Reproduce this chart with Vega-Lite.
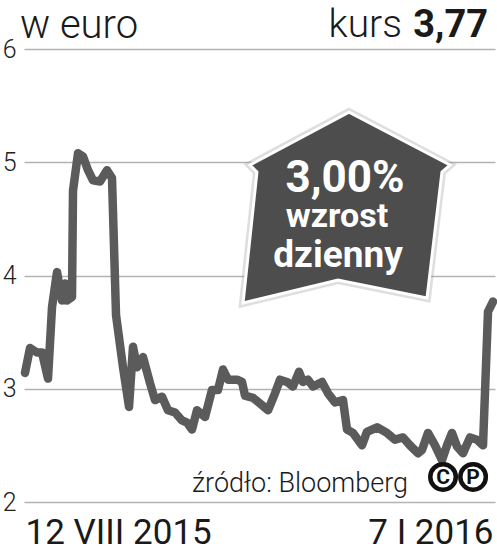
{
  "$schema": "https://vega.github.io/schema/vega-lite/v6.json",
  "autosize": {"type": "none"},
  "padding": {"left": 24, "top": 49, "right": 2, "bottom": 49},
  "width": 471,
  "height": 453,
  "background": "white",
  "config": {"view": {"stroke": null}},
  "layer": [
    {
      "data": {"values": [
        {"d": 0, "v": 3.14}, {"d": 1.58, "v": 3.36}, {"d": 3.79, "v": 3.32}, {"d": 5.38, "v": 3.32},
        {"d": 7.27, "v": 3.09}, {"d": 8.54, "v": 3.72}, {"d": 10.12, "v": 4.03}, {"d": 11.7, "v": 3.78},
        {"d": 12.65, "v": 3.93}, {"d": 13.28, "v": 3.78}, {"d": 14.86, "v": 3.81}, {"d": 15.18, "v": 4.75},
        {"d": 16.76, "v": 5.08}, {"d": 18.34, "v": 5.05}, {"d": 19.92, "v": 4.93}, {"d": 21.5, "v": 4.84},
        {"d": 23.72, "v": 4.83}, {"d": 25.93, "v": 4.93}, {"d": 27.51, "v": 4.86}, {"d": 28.78, "v": 3.65},
        {"d": 30.99, "v": 3.19}, {"d": 32.89, "v": 2.84}, {"d": 34.15, "v": 3.37}, {"d": 35.42, "v": 3.19},
        {"d": 37.32, "v": 3.28}, {"d": 39.53, "v": 3.05}, {"d": 41.11, "v": 2.9}, {"d": 43.32, "v": 2.93},
        {"d": 45.22, "v": 2.81}, {"d": 47.44, "v": 2.79}, {"d": 49.65, "v": 2.72}, {"d": 51.23, "v": 2.7},
        {"d": 52.81, "v": 2.64}, {"d": 54.39, "v": 2.81}, {"d": 56.92, "v": 2.75}, {"d": 59.14, "v": 2.99},
        {"d": 61.03, "v": 2.99}, {"d": 62.62, "v": 3.17}, {"d": 64.2, "v": 3.08}, {"d": 67.04, "v": 3.08},
        {"d": 68.62, "v": 3.06}, {"d": 69.57, "v": 2.94}, {"d": 72.1, "v": 2.92}, {"d": 74.32, "v": 2.87},
        {"d": 76.85, "v": 2.81}, {"d": 79.06, "v": 2.96}, {"d": 80.64, "v": 3.08}, {"d": 82.85, "v": 3.06},
        {"d": 84.75, "v": 3.02}, {"d": 86.65, "v": 3.15}, {"d": 87.91, "v": 3.06}, {"d": 89.5, "v": 3.08},
        {"d": 91.08, "v": 3.02}, {"d": 93.92, "v": 3.06}, {"d": 95.82, "v": 2.96}, {"d": 98.03, "v": 2.88},
        {"d": 100.56, "v": 2.9}, {"d": 101.83, "v": 2.64}, {"d": 103.73, "v": 2.61}, {"d": 106.57, "v": 2.5},
        {"d": 108.15, "v": 2.62}, {"d": 111.32, "v": 2.66}, {"d": 114.48, "v": 2.61}, {"d": 117.01, "v": 2.55},
        {"d": 119.54, "v": 2.57}, {"d": 121.75, "v": 2.5}, {"d": 124.28, "v": 2.43}, {"d": 125.55, "v": 2.46},
        {"d": 127.44, "v": 2.61}, {"d": 129.66, "v": 2.5}, {"d": 131.87, "v": 2.37}, {"d": 133.45, "v": 2.5},
        {"d": 135.03, "v": 2.61}, {"d": 136.62, "v": 2.49}, {"d": 138.51, "v": 2.43}, {"d": 140.73, "v": 2.57},
        {"d": 142.94, "v": 2.55}, {"d": 144.84, "v": 2.5}, {"d": 146.42, "v": 3.68}, {"d": 148.0, "v": 3.77}
      ]},
      "mark": {"type": "line", "color": "#5b5b5b", "strokeWidth": 8.5, "strokeJoin": "round", "strokeCap": "round"},
      "encoding": {
        "x": {
          "field": "d", "type": "quantitative", "title": null,
          "scale": {"domain": [-0.32, 148.63], "nice": false, "zero": false},
          "axis": {
            "values": [0, 148], "grid": false, "domain": false, "ticks": false, "tickSize": 0,
            "labelExpr": "datum.value < 1 ? '12 VIII 2015' : '7 I 2016'",
            "labelFlush": 5, "labelLimit": 0, "labelOverlap": false, "labelFont": "Roboto", "labelFontSize": 35, "labelColor": "#1a1a1a",
            "labelBaseline": "alphabetic", "labelPadding": 41
          }
        },
        "y": {
          "field": "v", "type": "quantitative", "title": null,
          "scale": {"domain": [2, 6], "nice": false, "zero": false},
          "axis": {
            "values": [2, 3, 4, 5, 6], "format": "d", "grid": true, "gridColor": "#b3b3b3", "gridWidth": 1.6,
            "domain": false, "ticks": false, "tickSize": 0, "labelPadding": 8, "labelOverlap": false,
            "labelFont": "Roboto", "labelFontWeight": 300, "labelFontSize": 25, "labelColor": "#222222",
            "labelBaseline": "middle"
          }
        }
      }
    },
    {
      "data": {"values": [{}]},
      "mark": {"type": "point", "filled": true, "fill": "#4d4d4d", "stroke": "#9a9a9a", "strokeWidth": 8, "strokeOpacity": 0.45, "size": 43264,
        "shape": "M0.024,-0.918 L0.995,-0.409 L0.918,-0.341 L0.774,0.870 L-0.082,0.697 L-0.995,0.918 L-0.861,-0.341 L-0.928,-0.409 Z"},
      "encoding": {"x": {"datum": 101.67, "type": "quantitative"}, "y": {"datum": 4.6, "type": "quantitative"}}
    },
    {
      "data": {"values": [{}]},
      "mark": {"type": "point", "filled": true, "fill": "#4d4d4d", "stroke": "white", "strokeWidth": 3, "opacity": 1, "size": 43264,
        "shape": "M0.024,-0.918 L0.995,-0.409 L0.918,-0.341 L0.774,0.870 L-0.082,0.697 L-0.995,0.918 L-0.861,-0.341 L-0.928,-0.409 Z"},
      "encoding": {"x": {"datum": 101.67, "type": "quantitative"}, "y": {"datum": 4.6, "type": "quantitative"}}
    },
    {
      "data": {"values": [{}]},
      "mark": {"type": "text", "text": "3,00%", "font": "Roboto", "fontWeight": "bold", "fontSize": 44, "color": "white", "align": "center", "baseline": "alphabetic"},
      "encoding": {"x": {"datum": 101.2, "type": "quantitative"}, "y": {"datum": 4.737, "type": "quantitative"}}
    },
    {
      "data": {"values": [{}]},
      "mark": {"type": "text", "text": "wzrost", "font": "Roboto", "fontWeight": "bold", "fontSize": 34, "color": "white", "align": "center", "baseline": "alphabetic"},
      "encoding": {"x": {"datum": 98.67, "type": "quantitative"}, "y": {"datum": 4.428, "type": "quantitative"}}
    },
    {
      "data": {"values": [{}]},
      "mark": {"type": "text", "text": "dzienny", "font": "Roboto", "fontWeight": "bold", "fontSize": 37, "color": "white", "align": "center", "baseline": "alphabetic"},
      "encoding": {"x": {"datum": 98.98, "type": "quantitative"}, "y": {"datum": 4.075, "type": "quantitative"}}
    },
    {
      "data": {"values": [{}]},
      "mark": {"type": "text", "text": "w euro", "font": "Roboto", "fontWeight": 300, "fontSize": 40, "color": "#1a1a1a", "align": "left", "baseline": "alphabetic"},
      "encoding": {"x": {"datum": -1.58, "type": "quantitative"}, "y": {"datum": 6.097, "type": "quantitative"}}
    },
    {
      "data": {"values": [{}]},
      "mark": {"type": "text", "text": "kurs", "font": "Roboto", "fontWeight": 300, "fontSize": 39, "color": "#1a1a1a", "align": "right", "baseline": "alphabetic"},
      "encoding": {"x": {"datum": 119.22, "type": "quantitative"}, "y": {"datum": 6.106, "type": "quantitative"}}
    },
    {
      "data": {"values": [{}]},
      "mark": {"type": "text", "text": "3,77", "font": "Roboto", "fontWeight": "bold", "fontSize": 38, "color": "#1a1a1a", "align": "right", "baseline": "alphabetic"},
      "encoding": {"x": {"datum": 146.42, "type": "quantitative"}, "y": {"datum": 6.106, "type": "quantitative"}}
    },
    {
      "data": {"values": [{}]},
      "mark": {"type": "text", "text": "źródło: Bloomberg", "font": "Roboto", "fontWeight": 300, "fontSize": 27, "color": "#1a1a1a", "align": "right", "baseline": "alphabetic"},
      "encoding": {"x": {"datum": 121.12, "type": "quantitative"}, "y": {"datum": 2.088, "type": "quantitative"}}
    },
    {
      "data": {"values": [{"s": "C", "d": 132.2}, {"s": "P", "d": 141.7}]},
      "mark": {"type": "point", "filled": false, "stroke": "#111111", "strokeWidth": 4.5, "size": 650, "shape": "circle", "opacity": 1},
      "encoding": {"x": {"field": "d", "type": "quantitative"}, "y": {"datum": 2.221, "type": "quantitative"}}
    },
    {
      "data": {"values": [{"s": "C", "d": 132.2}, {"s": "P", "d": 141.7}]},
      "mark": {"type": "text", "font": "Roboto", "fontWeight": "bold", "fontSize": 21, "color": "#111111", "align": "center", "baseline": "middle", "dy": 1},
      "encoding": {"x": {"field": "d", "type": "quantitative"}, "y": {"datum": 2.221, "type": "quantitative"}, "text": {"field": "s"}}
    }
  ]
}
